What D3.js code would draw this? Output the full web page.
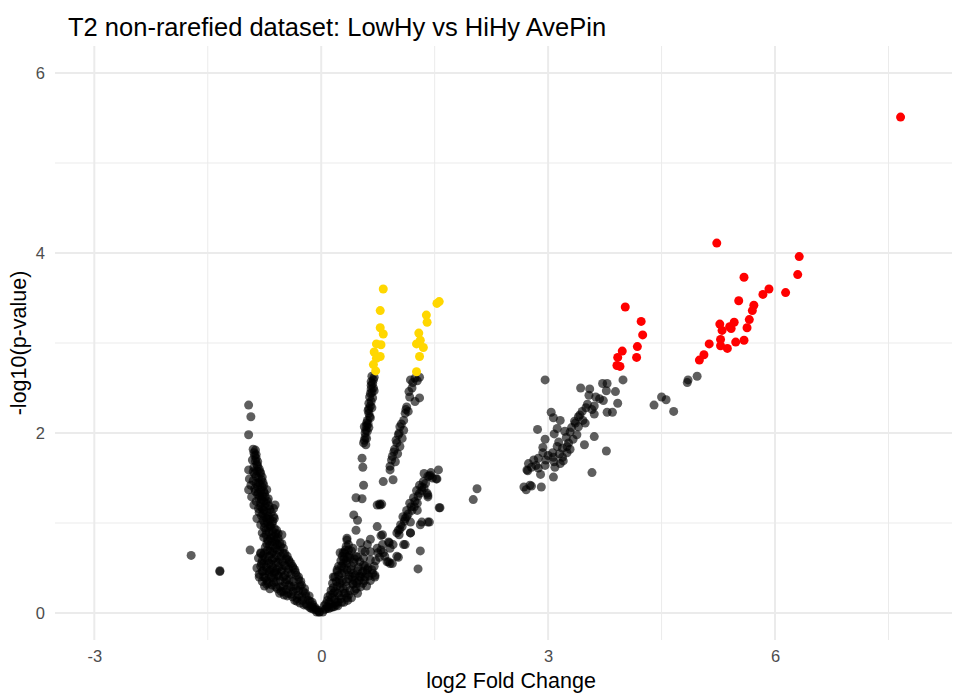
<!DOCTYPE html>
<html>
<head>
<meta charset="utf-8">
<title>Volcano plot</title>
<script src="https://d3js.org/d3.v7.min.js"></script>
<style>
  body { margin: 0; background: #fff; }
  text { font-family: "Liberation Sans", Arial, sans-serif; }
</style>
</head>
<body>
<svg width="957" height="693"></svg>
<script>
// log2 fold change, -log10(p) pairs
const blackPts = [
  // left arm
  [-0.96,2.31],[-0.93,2.18],[-0.96,1.98],[-0.90,1.82],[-0.87,1.81],[-0.86,1.72],[-0.84,1.68],[-0.96,1.59],
  [-0.82,1.60],[-0.95,1.49],[-0.78,1.51],[-0.90,1.47],[-0.76,1.42],[-0.96,1.37],[-0.87,1.35],[-0.72,1.37],
  [-0.92,1.29],[-0.81,1.30],[-0.70,1.27],[-0.89,1.20],[-0.61,1.20],[-0.63,1.16],[-0.83,1.16],[-0.76,1.14],
  [-0.85,1.05],[-0.72,1.05],[-0.63,1.07],[-0.67,0.96],[-0.78,0.89],[-0.59,0.92],[-0.52,0.87],[-0.72,0.77],
  [-0.61,0.79],[-0.54,0.74],[-0.94,0.70],[-0.80,0.67],[-0.65,0.66],[-0.48,0.66],[-0.83,0.61],[-0.76,0.55],
  [-0.43,0.59],[-0.78,0.46],[-0.67,0.48],[-0.59,0.48],[-0.37,0.50],[-0.74,0.39],[-0.63,0.39],[-0.50,0.40],
  [-0.30,0.40],[-0.65,0.31],[-0.54,0.29],[-0.43,0.31],[-0.26,0.31],[-0.50,0.24],[-0.37,0.24],[-0.21,0.22],
  [-0.32,0.16],[-0.17,0.14],[-0.23,0.09],[-0.12,0.07],[-0.06,0.01],[-0.80,0.66],
  [-0.88,1.75],[-0.85,1.65],[-0.89,1.62],[-0.80,1.55],[-0.86,1.52],[-0.83,1.45],[-0.93,1.42],[-0.78,1.40],
  [-0.88,1.38],[-0.75,1.33],[-0.84,1.32],[-0.79,1.26],[-0.86,1.24],[-0.73,1.22],[-0.80,1.18],[-0.68,1.15],
  [-0.77,1.10],[-0.82,1.12],[-0.70,1.08],[-0.64,1.02],[-0.75,1.00],[-0.80,0.98],[-0.68,0.97],[-0.62,0.94],
  [-0.73,0.92],[-0.57,0.88],[-0.66,0.86],[-0.76,0.84],[-0.60,0.82],[-0.70,0.80],[-0.55,0.78],[-0.64,0.75],
  [-0.74,0.73],[-0.50,0.72],[-0.58,0.70],[-0.68,0.69],[-0.77,0.64],[-0.53,0.63],[-0.62,0.61],[-0.46,0.60],
  [-0.71,0.58],[-0.57,0.56],[-0.40,0.55],[-0.66,0.54],[-0.49,0.53],[-0.80,0.52],[-0.35,0.48],[-0.72,0.47],
  [-0.53,0.46],[-0.44,0.45],[-0.62,0.44],[-0.82,0.43],[-0.33,0.42],[-0.69,0.42],[-0.56,0.41],[-0.42,0.37],
  [-0.78,0.35],[-0.60,0.35],[-0.27,0.35],[-0.48,0.34],[-0.70,0.33],[-0.36,0.30],[-0.58,0.27],[-0.22,0.27],
  [-0.46,0.26],[-0.30,0.25],[-0.40,0.21],[-0.55,0.22],[-0.16,0.19],[-0.26,0.18],[-0.45,0.19],[-0.35,0.14],
  [-0.12,0.12],[-0.28,0.11],[-0.20,0.10],[-0.08,0.06],[-0.15,0.06],[-0.04,0.03],[-0.10,0.04],[-0.02,0.01],
  [-0.85,0.50],[-0.82,0.40],[-0.75,0.30],[-0.68,0.27],[-0.72,0.36],[-0.78,0.58],
  [-0.89,1.78],[-0.86,1.76],[-0.91,1.70],[-0.87,1.69],[-0.84,1.63],[-0.90,1.57],[-0.85,1.58],[-0.81,1.57],
  [-0.88,1.55],[-0.83,1.50],[-0.79,1.48],[-0.86,1.44],[-0.81,1.43],[-0.77,1.45],[-0.84,1.40],[-0.80,1.36],
  [-0.76,1.35],[-0.83,1.34],[-0.78,1.30],[-0.74,1.29],[-0.82,1.27],[-0.76,1.24],[-0.71,1.24],[-0.80,1.22],
  [-0.74,1.18],[-0.69,1.19],[-0.78,1.16],[-0.72,1.12],[-0.66,1.12],[-0.79,1.08],[-0.74,1.06],[-0.68,1.04],
  [-0.62,1.05],[-0.77,1.03],[-0.71,1.01],[-0.65,0.99],[-0.70,0.95],[-0.64,0.91],[-0.75,0.95],[-0.69,0.90],
  [-0.60,0.88],[-0.73,0.87],[-0.67,0.83],[-0.62,0.85],[-0.57,0.83],[-0.71,0.82],[-0.65,0.79],[-0.58,0.76],
  [-0.68,0.75],[-0.52,0.77],[-0.61,0.72],[-0.71,0.70],[-0.55,0.69],[-0.64,0.68],[-0.75,0.67],[-0.50,0.66],
  [-0.59,0.64],[-0.69,0.63],[-0.45,0.63],[-0.55,0.60],[-0.65,0.59],[-0.74,0.61],[-0.42,0.57],[-0.51,0.57],
  [-0.60,0.56],[-0.69,0.55],[-0.79,0.55],[-0.47,0.52],[-0.56,0.51],[-0.64,0.50],[-0.73,0.51],[-0.38,0.52],
  [-0.43,0.49],[-0.52,0.48],[-0.61,0.46],[-0.69,0.46],[-0.77,0.47],[-0.34,0.45],[-0.40,0.43],[-0.48,0.42],
  [-0.58,0.42],[-0.66,0.40],[-0.76,0.40],[-0.30,0.37],[-0.37,0.35],[-0.46,0.37],[-0.54,0.36],[-0.63,0.34],
  [-0.72,0.32],[-0.28,0.30],[-0.40,0.29],[-0.50,0.30],[-0.60,0.29],[-0.24,0.24],[-0.33,0.27],[-0.44,0.22],
  [-0.53,0.24],[-0.20,0.18],[-0.30,0.20],[-0.38,0.18],[-0.49,0.20],[-0.15,0.13],[-0.25,0.14],[-0.32,0.13],
  [-0.11,0.09],[-0.18,0.08],[-0.07,0.04],[-0.13,0.05],[-0.03,0.01],
  // far left
  [-1.72,0.64],[-1.34,0.46],[-1.34,0.47],
  // right wedge near zero
  [0.02,0.01],[0.05,0.04],[0.04,0.08],[0.10,0.05],[0.08,0.14],[0.12,0.10],[0.15,0.07],[0.12,0.20],
  [0.18,0.15],[0.20,0.09],[0.16,0.28],[0.22,0.22],[0.26,0.16],[0.20,0.35],[0.25,0.28],[0.30,0.22],
  [0.34,0.17],[0.23,0.42],[0.28,0.36],[0.33,0.30],[0.38,0.25],[0.27,0.52],[0.31,0.45],[0.36,0.38],
  [0.42,0.32],[0.46,0.27],[0.30,0.60],[0.34,0.55],[0.39,0.48],[0.45,0.42],[0.50,0.36],[0.55,0.33],
  [0.32,0.70],[0.37,0.64],[0.43,0.56],[0.48,0.47],[0.53,0.44],[0.58,0.40],[0.40,0.69],[0.46,0.63],
  [0.51,0.57],[0.56,0.53],[0.62,0.50],[0.30,0.12],[0.40,0.17],[0.22,0.08],[0.48,0.22],[0.60,0.30],
  [0.65,0.36],[0.35,0.14],[0.16,0.40],[0.29,0.67],[0.36,0.76],[0.34,0.81],[0.42,0.72],[0.52,0.78],
  [0.61,0.76],[0.58,0.68],[0.56,0.61],[0.65,0.59],[0.67,0.48],[0.71,0.40],[0.61,0.48],[0.49,0.51],
  [0.52,0.40],[0.42,0.33],[0.34,0.48],[0.25,0.33],[0.16,0.22],[0.32,0.22],[0.22,0.12],[0.08,0.07],
  [0.42,0.44],[0.29,0.55],[0.21,0.48],[0.25,0.67],[0.38,0.61],[0.48,0.62],[0.54,0.70],[0.65,0.68],
  [0.74,0.72],[0.81,0.76],[0.82,0.67],[0.91,0.72],[0.87,0.57],[0.94,0.55],[1.02,0.62],[0.90,0.78],
  [0.06,0.10],[0.09,0.18],[0.13,0.25],[0.15,0.33],[0.18,0.40],[0.21,0.46],[0.23,0.52],[0.26,0.58],
  [0.28,0.63],[0.31,0.67],[0.33,0.74],[0.36,0.70],[0.35,0.62],[0.33,0.58],[0.30,0.50],[0.27,0.44],
  [0.24,0.37],[0.21,0.30],[0.18,0.24],[0.14,0.17],[0.11,0.12],[0.07,0.05],[0.13,0.06],[0.19,0.12],
  [0.24,0.19],[0.29,0.27],[0.33,0.35],[0.37,0.42],[0.40,0.52],[0.44,0.60],[0.41,0.40],[0.44,0.36],
  [0.47,0.33],[0.51,0.41],[0.55,0.46],[0.58,0.52],[0.60,0.44],[0.63,0.41],[0.68,0.44],[0.70,0.52],
  [0.72,0.58],[0.77,0.62],[0.79,0.70],[0.84,0.63],[0.27,0.12],[0.36,0.20],[0.44,0.25],[0.52,0.29],
  [0.57,0.36],[0.17,0.07],
  // scattered middle
  [0.56,1.42],[0.46,1.28],[0.54,1.27],[0.77,1.21],[0.80,1.21],[0.43,1.09],[0.48,1.03],[0.46,0.92],
  [0.74,0.96],[0.79,0.86],[0.65,0.82],[0.89,0.79],[0.95,0.76],[1.00,0.63],[0.91,0.55],[1.31,0.69],
  [1.28,0.49],[1.33,1.01],[1.43,1.01],[1.56,1.17],[1.18,0.89],[1.09,0.76],[0.54,1.72],[0.55,1.62],
  [0.34,0.83],[0.75,0.67],[1.11,0.76],[0.89,0.57],[0.81,0.87],[0.71,0.42],
  // steep arm 1
  [0.67,2.63],[0.69,2.59],[0.66,2.53],[0.69,2.50],[0.65,2.44],[0.68,2.39],[0.63,2.33],[0.67,2.28],
  [0.63,2.22],[0.65,2.17],[0.60,2.11],[0.63,2.06],[0.58,2.00],[0.60,1.94],[0.56,1.89],[0.59,1.87],
  [0.57,2.07],[0.70,2.47],[0.66,2.57],[0.64,2.40],[0.62,2.25],[0.61,2.14],[0.59,2.03],[0.66,2.35],
  [0.68,2.55],[0.67,2.45],[0.65,2.30],[0.64,2.18],[0.62,2.10],[0.61,2.02],[0.58,1.95],[0.70,2.62],
  [0.66,2.49],[0.63,2.27],[0.60,2.08],[0.57,1.92],
  // steep arm 2
  [1.18,2.59],[1.24,2.61],[1.30,2.62],[1.17,2.40],[1.30,2.39],[1.24,2.35],[1.13,2.29],[1.11,2.22],
  [1.15,2.24],[1.09,2.14],[1.04,2.07],[1.09,2.03],[1.02,1.98],[1.07,1.94],[1.00,1.89],[1.04,1.85],
  [0.96,1.79],[1.01,1.77],[0.93,1.70],[0.98,1.68],[0.91,1.63],[0.95,1.48],[0.91,1.59],[0.82,1.46],
  [0.78,1.20],[0.74,1.20],[1.21,2.56],[1.16,2.46],[1.12,2.26],[1.06,2.10],[1.03,2.00],[0.99,1.92],
  [0.97,1.82],[0.94,1.74],[1.20,2.50],[1.27,2.58],
  // third arm
  [1.55,1.59],[1.44,1.53],[1.53,1.49],[1.33,1.40],[1.57,1.17],[1.41,1.29],[1.27,1.22],[1.20,1.14],
  [1.13,1.07],[1.07,0.96],[1.00,0.89],[1.31,0.98],[1.41,1.01],[1.18,0.89],[1.02,0.92],[1.05,0.98],
  [1.08,1.07],[1.13,1.14],[1.17,1.22],[1.22,1.28],[1.26,1.36],[1.30,1.42],[1.35,1.46],[1.41,1.52],
  [1.30,1.33],[1.40,1.33],[1.41,1.31],[1.27,1.14],[1.18,1.01],[1.03,0.87],[1.52,1.49],[1.43,1.52],
  [1.36,1.55],[1.04,0.93],[1.10,1.02],[1.15,1.10],[1.19,1.18],[1.24,1.24],[1.28,1.30],[1.33,1.36],
  [1.38,1.44],[1.45,1.56],[1.47,1.50],[1.36,1.39],[1.23,1.18],[1.11,1.05],
  // between arms and cluster
  [2.06,1.38],[2.01,1.26],
  // cluster
  [2.96,2.59],[3.43,2.50],[3.55,2.49],[3.72,2.55],[3.78,2.55],[3.99,2.59],[3.77,2.47],[3.89,2.46],
  [3.54,2.42],[3.63,2.40],[3.73,2.36],[3.92,2.33],[3.52,2.32],[3.61,2.30],[3.58,2.26],[3.78,2.23],
  [3.85,2.23],[3.61,2.21],[3.45,2.24],[3.40,2.18],[3.04,2.23],[3.07,2.17],[3.16,2.14],[3.46,2.14],
  [3.36,2.11],[3.49,2.11],[3.31,2.06],[3.40,2.07],[3.12,2.05],[3.22,2.02],[3.29,2.01],[2.86,2.04],
  [3.08,1.99],[3.38,1.98],[3.61,1.96],[3.33,1.93],[2.96,1.93],[3.27,1.89],[3.48,1.87],[3.12,1.85],
  [3.19,1.83],[2.93,1.84],[3.29,1.82],[3.06,1.78],[3.15,1.77],[3.25,1.78],[2.93,1.78],[3.77,1.80],
  [3.07,1.73],[3.19,1.73],[3.20,1.69],[2.87,1.72],[2.81,1.70],[2.97,1.70],[3.16,1.66],[3.08,1.68],
  [2.74,1.66],[2.84,1.64],[2.96,1.64],[2.78,1.62],[2.87,1.61],[2.72,1.59],[3.09,1.62],[2.90,1.54],
  [3.07,1.51],[3.58,1.56],[2.76,1.42],[2.68,1.40],[2.91,1.40],[2.71,1.37],[2.78,1.41],[2.73,1.58],
  [3.35,2.13],[3.42,2.20],[3.24,1.95],[3.14,1.90],[3.00,1.75],[3.25,1.85],[3.50,2.28],[3.68,2.38],
  // right of cluster
  [4.84,2.56],[4.40,2.31],[4.50,2.40],[4.56,2.37],[4.66,2.24],[4.97,2.63],[4.85,2.59]
];

const yellowPts = [
  [0.82,3.60],[0.78,3.36],[0.78,3.17],[0.82,3.10],[0.73,2.99],[0.79,2.98],[0.70,2.90],[0.78,2.85],
  [0.73,2.83],[0.69,2.76],[0.72,2.69],
  [1.53,3.44],[1.56,3.46],[1.39,3.31],[1.40,3.23],[1.29,3.11],[1.31,3.03],[1.26,2.99],[1.35,2.95],
  [1.30,2.85],[1.26,2.68]
];

const redPts = [
  [5.23,4.11],[6.32,3.96],[6.30,3.76],[5.59,3.73],[6.14,3.56],[5.92,3.60],[5.84,3.54],[5.52,3.47],
  [5.72,3.42],[5.70,3.36],[5.66,3.26],[5.63,3.17],[5.59,3.03],[5.48,3.01],[5.46,3.23],[5.42,3.16],
  [5.27,3.21],[5.30,3.14],[5.28,3.04],[5.28,2.97],[5.37,2.94],[5.13,2.99],[5.06,2.87],[5.00,2.81],
  [5.40,3.18],
  [4.02,3.40],[4.23,3.24],[4.25,3.09],[4.18,2.96],[4.17,2.84],[3.98,2.91],[3.92,2.84],[3.91,2.75],
  [3.95,2.74],
  [7.66,5.51]
];

const xTicks = [-3, 0, 3, 6];
const yTicks = [0, 2, 4, 6];
const xMinor = [-1.5, 1.5, 4.5, 7.5];
const yMinor = [1, 3, 5];

const svg = d3.select("svg");
const panel = { left: 55, right: 952, top: 46, bottom: 640 };

const x = d3.scaleLinear().domain([-3.52, 8.34]).range([panel.left, panel.right]);
const y = d3.scaleLinear().domain([-0.3, 6.3]).range([panel.bottom, panel.top]);

// grid
const grid = svg.append("g");
grid.selectAll(".vmin").data(xMinor).enter().append("line")
  .attr("x1", d => x(d)).attr("x2", d => x(d))
  .attr("y1", panel.top).attr("y2", panel.bottom)
  .attr("stroke", "#ebebeb").attr("stroke-width", 1);
grid.selectAll(".hmin").data(yMinor).enter().append("line")
  .attr("y1", d => y(d)).attr("y2", d => y(d))
  .attr("x1", panel.left).attr("x2", panel.right)
  .attr("stroke", "#ebebeb").attr("stroke-width", 1);
grid.selectAll(".vmaj").data(xTicks).enter().append("line")
  .attr("x1", d => x(d)).attr("x2", d => x(d))
  .attr("y1", panel.top).attr("y2", panel.bottom)
  .attr("stroke", "#ebebeb").attr("stroke-width", 2);
grid.selectAll(".hmaj").data(yTicks).enter().append("line")
  .attr("y1", d => y(d)).attr("y2", d => y(d))
  .attr("x1", panel.left).attr("x2", panel.right)
  .attr("stroke", "#ebebeb").attr("stroke-width", 2);

// axes (labels only)
const xAxis = svg.append("g")
  .attr("transform", `translate(0,${panel.bottom})`)
  .call(d3.axisBottom(x).tickValues(xTicks).tickFormat(d => String(d)).tickSize(0).tickPadding(10));
const yAxis = svg.append("g")
  .attr("transform", `translate(${panel.left},0)`)
  .call(d3.axisLeft(y).tickValues(yTicks).tickFormat(d => String(d)).tickSize(0).tickPadding(10));
[xAxis, yAxis].forEach(a => {
  a.select(".domain").remove();
  a.selectAll("text").attr("fill", "#4d4d4d")
    .style("font-size", "16.5px").style("font-family", "'Liberation Sans', Arial, sans-serif");
});

// points
svg.append("g").selectAll("circle").data(blackPts).enter().append("circle")
  .attr("cx", d => x(d[0])).attr("cy", d => y(d[1])).attr("r", 4.5)
  .attr("fill", "#000").attr("fill-opacity", 0.63);
svg.append("g").selectAll("circle").data(yellowPts).enter().append("circle")
  .attr("cx", d => x(d[0])).attr("cy", d => y(d[1])).attr("r", 4.5)
  .attr("fill", "#ffd700");
svg.append("g").selectAll("circle").data(redPts).enter().append("circle")
  .attr("cx", d => x(d[0])).attr("cy", d => y(d[1])).attr("r", 4.5)
  .attr("fill", "#ff0000");

// titles
svg.append("text").attr("x", 68).attr("y", 36)
  .style("font-size", "25.5px").attr("fill", "#000")
  .text("T2 non-rarefied dataset: LowHy vs HiHy AvePin");
svg.append("text").attr("x", 511).attr("y", 688)
  .attr("text-anchor", "middle").style("font-size", "21.5px").attr("fill", "#000")
  .text("log2 Fold Change");
svg.append("text")
  .attr("transform", `translate(26,${(panel.top + panel.bottom) / 2}) rotate(-90)`)
  .attr("text-anchor", "middle").style("font-size", "21.5px").attr("fill", "#000")
  .text("-log10(p-value)");
</script>
</body>
</html>
